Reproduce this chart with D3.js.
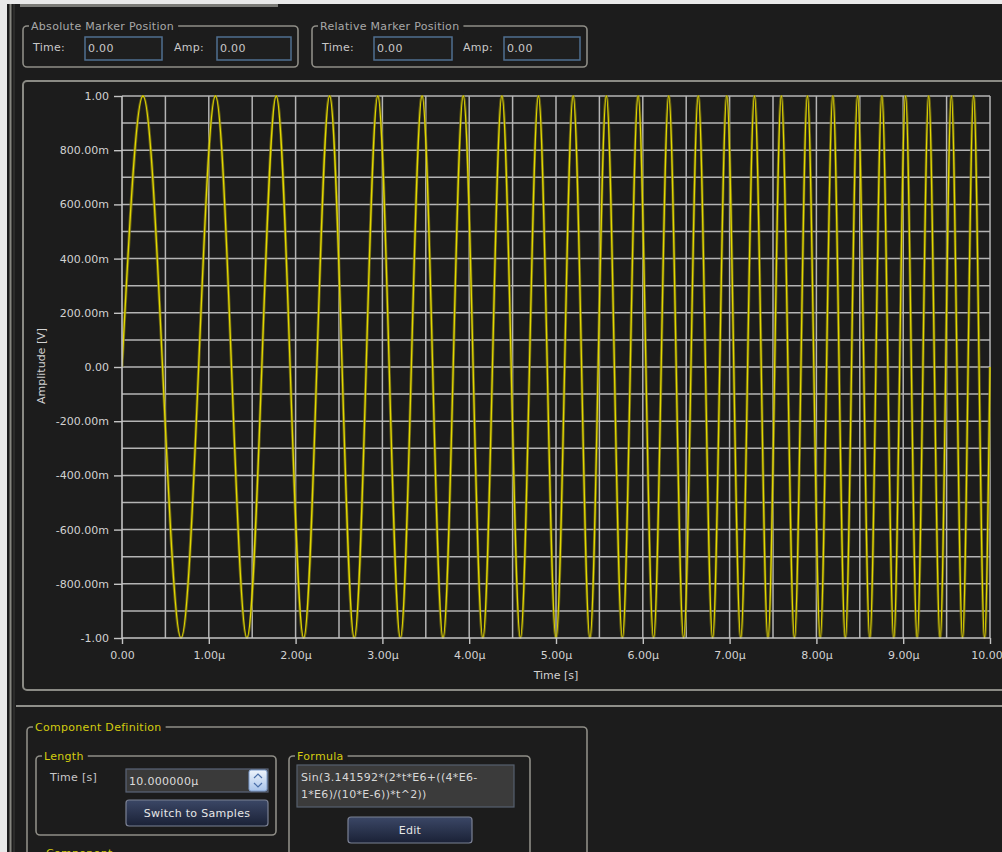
<!DOCTYPE html>
<html><head><meta charset="utf-8">
<script src="https://cdn.jsdelivr.net/npm/d3@7"></script>
<style>html,body{margin:0;padding:0;background:#1c1c1c;overflow:hidden}</style>
</head><body><svg id="c" width="1002" height="852"></svg>
<script>
// ---- data (time in µs, amplitude in V) ----
const timeUs = [0,0.24127,0.46725,0.68053,0.88304,1.07625,1.26135,1.43927,1.61080,1.77657,
1.93713,2.09294,2.24440,2.39186,2.53560,2.67592,2.81303,2.94715,3.07846,3.20714,
3.33333,3.45718,3.57881,3.69834,3.81587,3.93150,4.04532,4.15740,4.26784,4.37669,
4.48403,4.58991,4.69440,4.79754,4.89939,5.00000,5.09941,5.19766,5.29479,5.39084,
5.48584,5.57983,5.67284,5.76490,5.85603,5.94627,6.03565,6.12417,6.21188,6.29879,
6.38492,6.47029,6.55493,6.63885,6.72207,6.80460,6.88647,6.96769,7.04828,7.12824,
7.20759,7.28636,7.36454,7.44215,7.51921,7.59573,7.67172,7.74718,7.82213,7.89659,
7.97055,8.04403,8.11704,8.18959,8.26169,8.33333,8.40455,8.47533,8.54569,8.61563,
8.68517,8.75431,8.82306,8.89141,8.95939,9.02700,9.09424,9.16111,9.22763,9.29380,
9.35962,9.42511,9.49026,9.55508,9.61957,9.68375,9.74761,9.81116,9.87441,9.93735,
10.0];
const amplitude = [0,1,0,-1,0,1,0,-1,0,1,0,-1,0,1,0,-1,0,1,0,-1,
0,1,0,-1,0,1,0,-1,0,1,0,-1,0,1,0,-1,0,1,0,-1,
0,1,0,-1,0,1,0,-1,0,1,0,-1,0,1,0,-1,0,1,0,-1,
0,1,0,-1,0,1,0,-1,0,1,0,-1,0,1,0,-1,0,1,0,-1,
0,1,0,-1,0,1,0,-1,0,1,0,-1,0,1,0,-1,0,1,0,-1,
0];
const xTickValues = [0,1,2,3,4,5,6,7,8,9,10];
const xTickLabels = ["0.00","1.00µ","2.00µ","3.00µ","4.00µ","5.00µ","6.00µ","7.00µ","8.00µ","9.00µ","10.00µ"];
const yTickValues = [1,0.8,0.6,0.4,0.2,0,-0.2,-0.4,-0.6,-0.8,-1];
const yTickLabels = ["1.00","800.00m","600.00m","400.00m","200.00m","0.00","-200.00m","-400.00m","-600.00m","-800.00m","-1.00"];
const xGridValues = [0.5,1,1.5,2,2.5,3,3.5,4,4.5,5,5.5,6,6.5,7,7.5,8,8.5,9,9.5];
const yGridValues = [0.9,0.8,0.7,0.6,0.5,0.4,0.3,0.2,0.1,0,-0.1,-0.2,-0.3,-0.4,-0.5,-0.6,-0.7,-0.8,-0.9];

const FONT = "'DejaVu Sans', Verdana, sans-serif";
const FS = 11;
const LS = "0.3px";
const svg = d3.select("#c");
const defs = svg.append("defs");
const btnGrad = defs.append("linearGradient").attr("id","btn").attr("x1",0).attr("y1",0).attr("x2",0).attr("y2",1);
btnGrad.append("stop").attr("offset","0").attr("stop-color","#3b4766");
btnGrad.append("stop").attr("offset","1").attr("stop-color","#1a2136");
const spinGrad = defs.append("linearGradient").attr("id","spin").attr("x1",0).attr("y1",0).attr("x2",0).attr("y2",1);
spinGrad.append("stop").attr("offset","0").attr("stop-color","#eef4fc");
spinGrad.append("stop").attr("offset","1").attr("stop-color","#a9c4ea");

svg.append("rect").attr("width",1002).attr("height",852).attr("fill","#1c1c1c");
// window chrome
svg.append("rect").attr("x",0).attr("y",0).attr("width",1002).attr("height",4).attr("fill","#e9e9e9");
svg.append("rect").attr("x",0).attr("y",0).attr("width",7).attr("height",852).attr("fill","#e9e9e9");
svg.append("rect").attr("x",20).attr("y",4).attr("width",258).attr("height",3).attr("fill","#7c7c78");
svg.append("line").attr("x1",10.5).attr("x2",10.5).attr("y1",4).attr("y2",852).attr("stroke","#85857f").attr("stroke-width",2);
svg.append("line").attr("x1",14).attr("x2",14).attr("y1",4).attr("y2",852).attr("stroke","#3c3c3a").attr("stroke-width",1);

function groupBox(x, y, w, h, title, color) {
  svg.append("rect").attr("x",x).attr("y",y).attr("width",w).attr("height",h).attr("rx",4)
    .attr("fill","none").attr("stroke","#8e8d86").attr("stroke-width",1.6);
  const mask = svg.append("rect").attr("x",x+6).attr("y",y-6).attr("height",12).attr("fill","#1c1c1c");
  const t = svg.append("text").attr("x",x+8).attr("y",y+4).attr("fill",color).attr("font-family",FONT)
    .attr("font-size",FS).attr("letter-spacing",LS).text(title);
  mask.attr("width", t.node().getComputedTextLength() + 6);
}
function label(x, y, t, color) {
  svg.append("text").attr("x",x).attr("y",y).attr("fill",color||"#c8c8c8").attr("font-family",FONT)
    .attr("font-size",FS).attr("letter-spacing",LS).text(t);
}
function inputBox(x, y, w, h, t) {
  svg.append("rect").attr("x",x).attr("y",y).attr("width",w).attr("height",h)
    .attr("fill","#1e1e1e").attr("stroke","#4f6f90").attr("stroke-width",1.5);
  label(x+3, y+15, t, "#c8c8c8");
}
// top marker groups
groupBox(23,26,275,41,"Absolute Marker Position","#a8a8a8");
label(33,51,"Time:"); inputBox(85,37,77,23,"0.00");
label(174,51,"Amp:"); inputBox(217,37,74,23,"0.00");
groupBox(312,26,275,41,"Relative Marker Position","#a8a8a8");
label(322,51,"Time:"); inputBox(374,37,78,23,"0.00");
label(463,51,"Amp:"); inputBox(504,37,76,23,"0.00");

// plot panel frame
svg.append("rect").attr("x",23).attr("y",81).attr("width",1000).attr("height",609).attr("rx",4)
  .attr("fill","none").attr("stroke","#8a8a84").attr("stroke-width",2);
svg.append("line").attr("x1",16).attr("x2",1002).attr("y1",706).attr("y2",706).attr("stroke","#8f8f8a").attr("stroke-width",2);

// ---- chart ----
const x = d3.scaleLinear().domain([0,10]).range([122,990]);
const y = d3.scaleLinear().domain([-1,1]).range([638,96]);
defs.append("clipPath").attr("id","clip").append("rect").attr("x",122).attr("y",95).attr("width",869).attr("height",544);

const grid = svg.append("g").attr("stroke","#b4b4b4").attr("stroke-width",1.5);
grid.selectAll(".v").data(xGridValues).join("line").attr("x1",d=>x(d)).attr("x2",d=>x(d)).attr("y1",y(1)).attr("y2",y(-1));
grid.selectAll(".h").data(yGridValues).join("line").attr("x1",x(0)).attr("x2",x(10)).attr("y1",d=>y(d)).attr("y2",d=>y(d));
grid.append("line").attr("x1",x(0)).attr("x2",x(10)).attr("y1",y(1)).attr("y2",y(1));
grid.append("line").attr("x1",x(10)).attr("x2",x(10)).attr("y1",y(1)).attr("y2",y(-1));

const idx = d3.range(timeUs.length);
const line = d3.line().x(i=>x(timeUs[i])).y(i=>y(amplitude[i])).curve(d3.curveNatural);
const tr = svg.append("g").attr("clip-path","url(#clip)");
tr.append("path").attr("d",line(idx)).attr("fill","none").attr("stroke","#7d7612").attr("stroke-width",3).attr("stroke-opacity",0.75);
tr.append("path").attr("d",line(idx)).attr("fill","none").attr("stroke","#e2d800").attr("stroke-width",1.3);

const yAxis = svg.append("g").attr("transform","translate(122,0)")
  .call(d3.axisLeft(y).tickValues(yTickValues).tickFormat((d,i)=>yTickLabels[i]).tickSize(8).tickPadding(5));
const xAxis = svg.append("g").attr("transform","translate(0,638)")
  .call(d3.axisBottom(x).tickValues(xTickValues).tickFormat((d,i)=>xTickLabels[i]).tickSize(6).tickPadding(7));
[yAxis,xAxis].forEach(a=>{
  a.selectAll("path").attr("stroke","#c4c4c4").attr("stroke-width",1.6);
  a.selectAll("line").attr("stroke","#c4c4c4").attr("stroke-width",1.4);
  a.selectAll("text").attr("fill","#d2d2d2").attr("font-family",FONT).attr("font-size",FS);
});
yAxis.select(".domain").attr("d","M0,96V638");
xAxis.select(".domain").attr("d","M122,0H990");

svg.append("text").attr("transform","translate(45,366) rotate(-90)").attr("text-anchor","middle")
  .attr("fill","#d2d2d2").attr("font-family",FONT).attr("font-size",FS).text("Amplitude [V]");
svg.append("text").attr("x",556).attr("y",679).attr("text-anchor","middle")
  .attr("fill","#d2d2d2").attr("font-family",FONT).attr("font-size",FS).text("Time [s]");

// ---- component definition ----
const YEL = "#d4cc10";
groupBox(27,727,560,140,"Component Definition",YEL);
groupBox(36,756,240,79,"Length",YEL);
label(50,781,"Time [s]");
svg.append("rect").attr("x",126).attr("y",769).attr("width",142).attr("height",23)
  .attr("fill","#3a3a3a").attr("stroke","#5a6478").attr("stroke-width",1.2);
label(129,785,"10.000000µ","#dcdcdc");
svg.append("rect").attr("x",249).attr("y",770).attr("width",18).attr("height",21).attr("rx",2)
  .attr("fill","url(#spin)").attr("stroke","#7d9ccc");
svg.append("path").attr("d","M254,778 L258,774 L262,778").attr("fill","none").attr("stroke","#4a6ea8").attr("stroke-width",1.2);
svg.append("path").attr("d","M254,783 L258,787 L262,783").attr("fill","none").attr("stroke","#4a6ea8").attr("stroke-width",1.2);
function button(x0,y0,w,h,t){
  svg.append("rect").attr("x",x0).attr("y",y0).attr("width",w).attr("height",h).attr("rx",3)
    .attr("fill","url(#btn)").attr("stroke","#7b8194").attr("stroke-width",1.2);
  svg.append("text").attr("x",x0+w/2).attr("y",y0+h/2+4).attr("text-anchor","middle")
    .attr("fill","#e6e6e6").attr("font-family",FONT).attr("font-size",FS).attr("letter-spacing",LS).text(t);
}
button(126,800,142,26,"Switch to Samples");
groupBox(289,756,241,120,"Formula",YEL);
svg.append("rect").attr("x",297).attr("y",765).attr("width",217).attr("height",42)
  .attr("fill","#3b3b3b").attr("stroke","#56606e").attr("stroke-width",1.2);
label(301,781,"Sin(3.141592*(2*t*E6+((4*E6-","#d8d8d8");
label(301,798,"1*E6)/(10*E-6))*t^2))","#d8d8d8");
button(348,817,124,26,"Edit");
svg.append("rect").attr("x",40).attr("y",845).attr("width",80).attr("height",10).attr("fill","#1c1c1c");
label(46,857,"Component",YEL);
</script></body></html>
